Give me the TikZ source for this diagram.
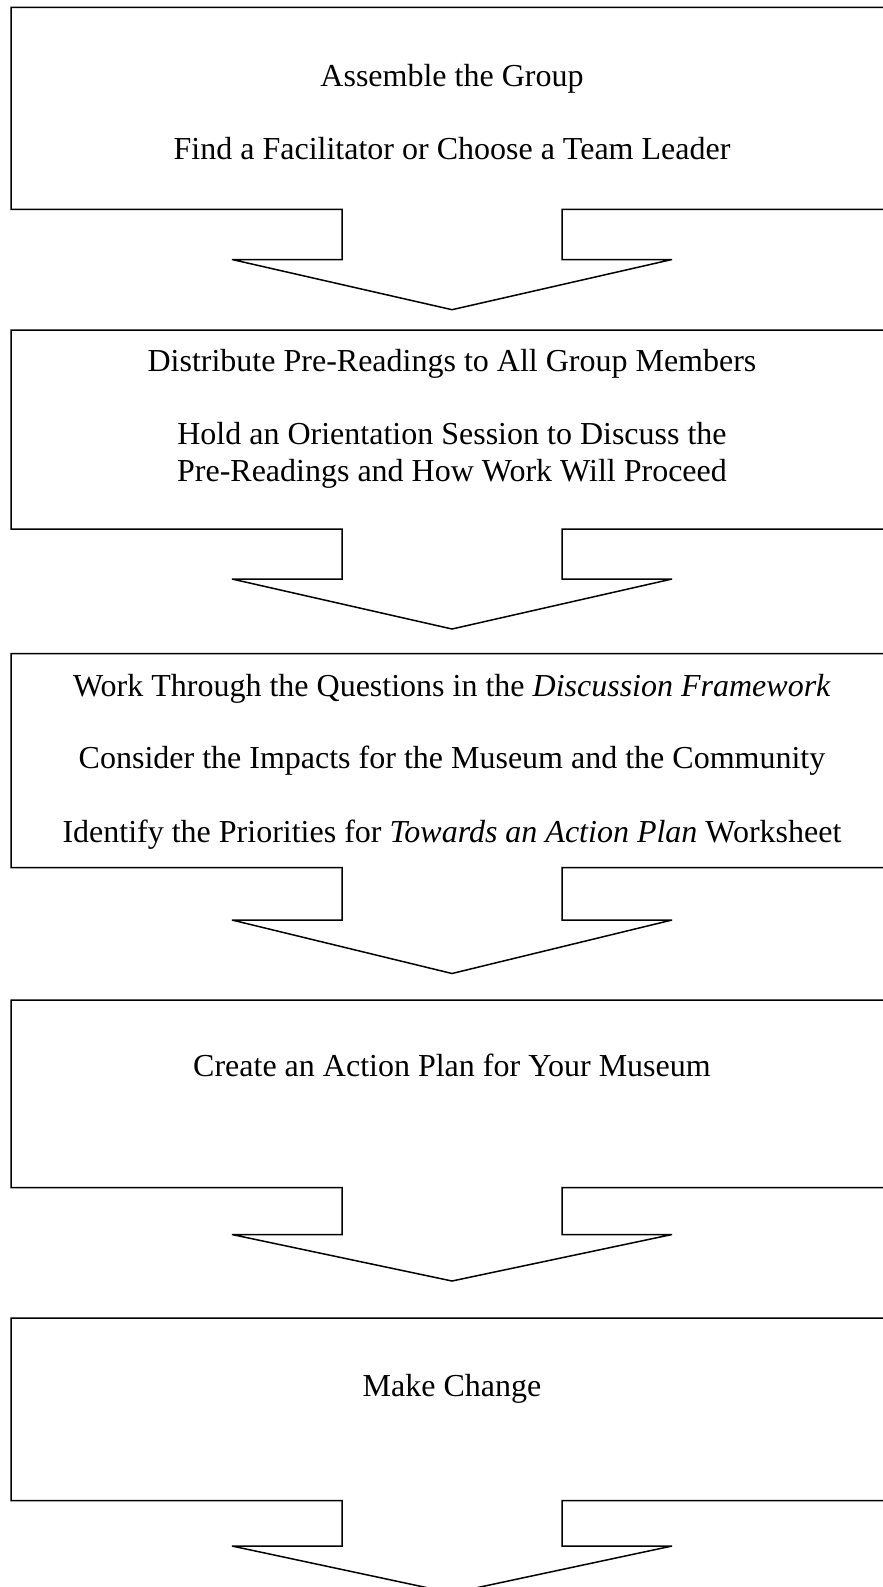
\documentclass[tikz,border=0pt]{standalone}
\usepackage{fontspec}
\setmainfont{Liberation Serif}
\tikzset{
  boxline/.style={draw=black, line width=1.5pt, line join=miter, miter limit=3},
  label/.style={anchor=base, inner sep=0pt, font=\fontsize{32}{36.8}\selectfont, align=center}
}
% #1 top, #2 box bottom, #3 stem bottom, #4 tip
\newcommand\flowshape[4]{%
  \draw[boxline] (895,#1) -- (11,#1) -- (11,#2) -- (342,#2) -- (342,#3) -- (232,#3)
    -- (452,#4) -- (672,#3) -- (562,#3) -- (562,#2) -- (895,#2);
}
\begin{document}
\begin{tikzpicture}[x=1pt,y=-1pt]
\path[use as bounding box] (0,0) rectangle (883,1587);
\clip (0,0) rectangle (883,1587);
\fill[white] (0,0) rectangle (883,1587);

\flowshape{7.5}{209.3}{259.5}{309.7}
\flowshape{330}{529}{579}{629}
\flowshape{653.5}{867.5}{920}{973.5}
\flowshape{1000}{1187.7}{1234.5}{1281}
\flowshape{1318}{1500.7}{1546}{1593}

\node[label] (a1) at (452,86) {Assemble the Group};
\node[label] (a2) at (452,159.5) {Find a Facilitator or Choose a Team Leader};

\node[label] (b1) at (452,371) {Distribute Pre-Readings to All Group Members};
\node[label] (b2) at (452,444.5) {Hold an Orientation Session to Discuss the};
\node[label] (b3) at (452,481.5) {Pre-Readings and How Work Will Proceed};

\node[label] (c1) at (452,696) {Work Through the Questions in the \textit{Discussion Framework}};
\node[label] (c2) at (452,768.5) {Consider the Impacts for the Museum and the Community};
\node[label] (c3) at (452,842) {Identify the Priorities for \textit{Towards an Action Plan} Worksheet};

\node[label] (d1) at (452,1076) {Create an Action Plan for Your Museum};

\node[label] (e1) at (452,1396) {Make Change};
\end{tikzpicture}
\end{document}
